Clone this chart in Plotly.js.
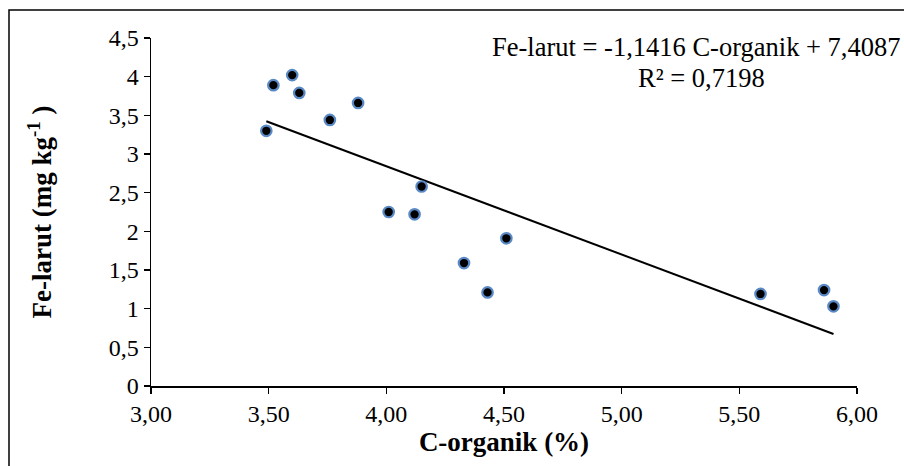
<!DOCTYPE html>
<html>
<head>
<meta charset="utf-8">
<script src="https://cdn.plot.ly/plotly-3.0.1.min.js"></script>
<style>
html,body{margin:0;padding:0;background:#fff;}
#chart{width:904px;height:466px;}
</style>
</head>
<body>
<div id="chart"></div>
<script>
// Data
const cOrganik = [3.49, 3.52, 3.60, 3.63, 3.76, 3.88, 4.01, 4.12, 4.15, 4.33, 4.43, 4.51, 5.59, 5.86, 5.90];
const feLarut  = [3.30, 3.89, 4.02, 3.79, 3.44, 3.66, 2.25, 2.22, 2.58, 1.59, 1.21, 1.91, 1.19, 1.24, 1.03];
const trendX = [3.49, 5.90];
const trendY = [3.424, 0.673];
const xTickVals = [3.0, 3.5, 4.0, 4.5, 5.0, 5.5, 6.0];
const xTickText = ["3,00", "3,50", "4,00", "4,50", "5,00", "5,50", "6,00"];
const yTickVals = [0, 0.5, 1, 1.5, 2, 2.5, 3, 3.5, 4, 4.5];
const yTickText = ["0", "0,5", "1", "1,5", "2", "2,5", "3", "3,5", "4", "4,5"];
const eqText = "Fe-larut = -1,1416 C-organik + 7,4087";
const r2Text = "R² = 0,7198";

const serif = "Liberation Serif, Times New Roman, serif";

const traces = [
  {
    x: trendX, y: trendY, type: "scatter", mode: "lines",
    line: {color: "#000000", width: 2},
    hoverinfo: "skip", showlegend: false
  },
  {
    x: cOrganik, y: feLarut, type: "scatter", mode: "markers",
    marker: {color: "#000000", size: 10.5, line: {color: "#5a8ac6", width: 2.2}},
    showlegend: false
  }
];

const layout = {
  width: 904, height: 466,
  margin: {l: 151, r: 47, t: 38, b: 80, pad: 0},
  paper_bgcolor: "#ffffff", plot_bgcolor: "#ffffff",
  font: {family: serif, color: "#000000", size: 24},
  showlegend: false,
  xaxis: {
    range: [3, 6], tickvals: xTickVals, ticktext: xTickText,
    showgrid: false, zeroline: false, showline: true, linecolor: "#000000", linewidth: 1.5,
    ticks: "outside", ticklen: 6, tickwidth: 1.5, tickcolor: "#000000",
    tickfont: {family: serif, size: 24, color: "#000000"},
    title: {text: "<b>C-organik (%)</b>", font: {family: serif, size: 27, color: "#000000"}, standoff: 0},
    automargin: false, fixedrange: true
  },
  yaxis: {
    range: [0, 4.5], tickvals: yTickVals, ticktext: yTickText,
    showgrid: false, zeroline: false, showline: true, linecolor: "#000000", linewidth: 1.5,
    ticks: "outside", ticklen: 6, tickwidth: 1.5, tickcolor: "#000000",
    tickfont: {family: serif, size: 24, color: "#000000"},
    title: {text: "<b>Fe-larut (mg kg<sup>-1</sup> )</b>", font: {family: serif, size: 27, color: "#000000"}, standoff: 49},
    automargin: false, fixedrange: true
  },
  annotations: [
    {text: eqText, xref: "paper", yref: "paper", x: 1.064, y: 0.975,
     xanchor: "right", yanchor: "middle", showarrow: false,
     font: {family: serif, size: 26.5, color: "#000000"}},
    {text: r2Text, xref: "paper", yref: "paper", x: 0.780, y: 0.885,
     xanchor: "center", yanchor: "middle", showarrow: false,
     font: {family: serif, size: 26.5, color: "#000000"}}
  ],
  shapes: [
    {type: "rect", xref: "paper", yref: "paper",
     x0: (9 - 151) / 706, x1: 1.2, y0: -0.5, y1: (386.5 - 10) / 348.5,
     line: {color: "#000000", width: 1.5}, fillcolor: "rgba(0,0,0,0)", layer: "below"}
  ]
};

Plotly.newPlot("chart", traces, layout, {displayModeBar: false, staticPlot: true});
</script>
</body>
</html>
